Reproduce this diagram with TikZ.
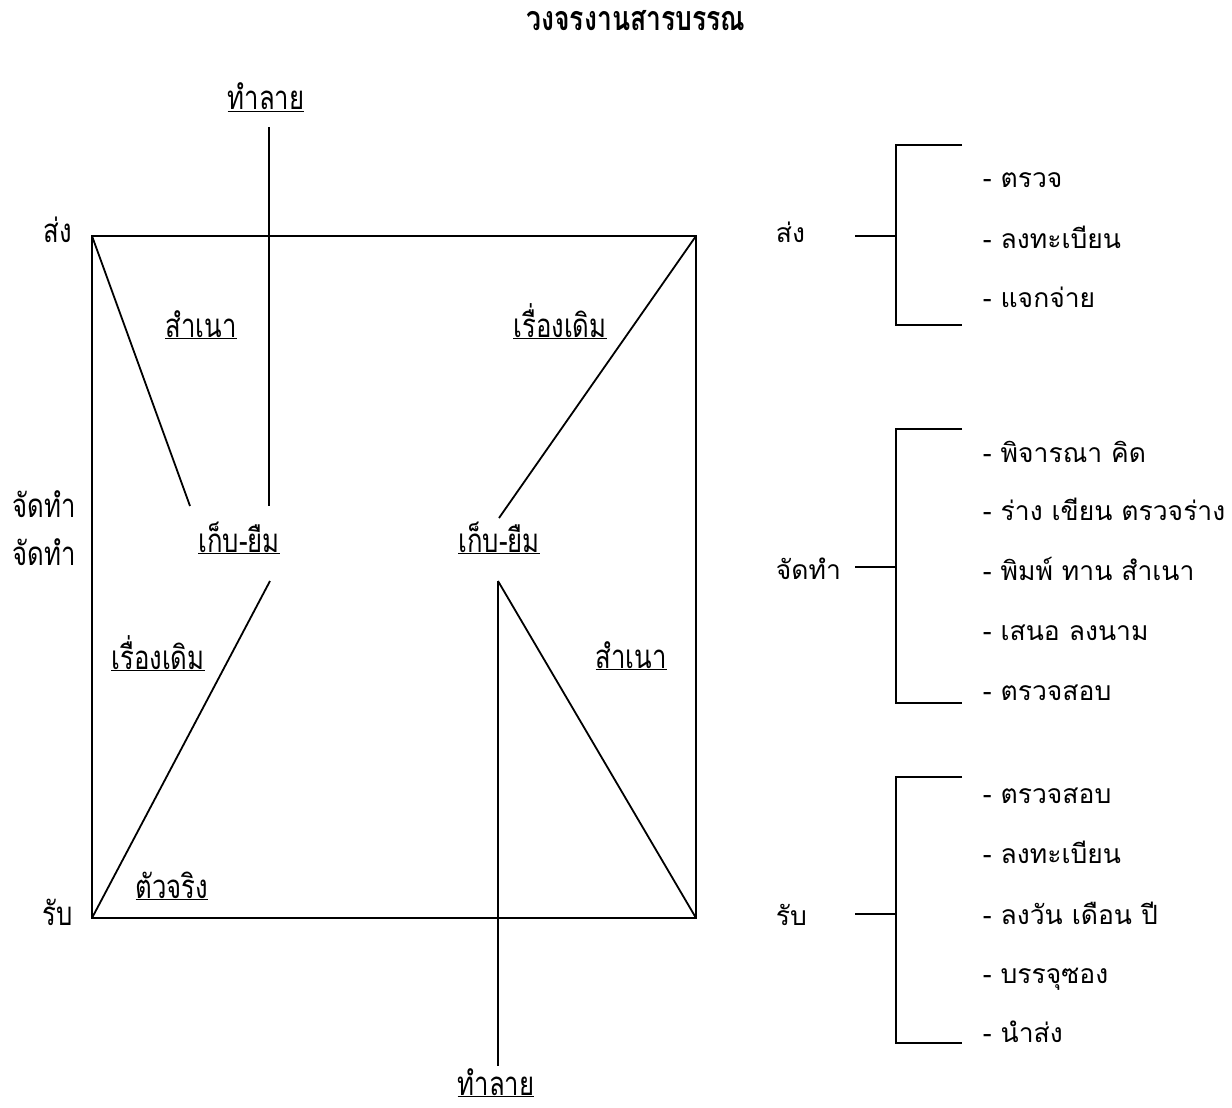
\documentclass[tikz,border=0pt]{standalone}
\usepackage{fontspec}
\newfontfamily\thai[Script=Thai]{Loma}
\newfontfamily\thain[Script=Thai,FakeStretch=0.78]{Loma}
\begin{document}
\begin{tikzpicture}[x=1pt,y=-1pt,
  line width=1.8pt,
  lbl/.style={inner sep=0pt,anchor=base,font=\thain\fontsize{33}{36}\selectfont},
  itm/.style={inner sep=0pt,anchor=base west,font=\thai\fontsize{26.5}{30}\selectfont},
  hd/.style={inner sep=0pt,anchor=base west,font=\thai\fontsize{26.5}{30}\selectfont}]
\useasboundingbox (0,0) rectangle (1232,1108);
% title
\node[inner sep=0pt,anchor=base,font=\thain\bfseries\fontsize{34}{36}\selectfont] (title) at (636,31) {วงจรงานสารบรรณ};
% corners
\coordinate (TL) at (92,236);
\coordinate (TR) at (696,236);
\coordinate (BL) at (92,918);
\coordinate (BR) at (696,918);
\draw (TL) -- (TR) -- (BR) -- (BL) -- cycle;
% labels inside
\node[lbl] (dtop) at (266,110) {\underline{ทำลาย}};
\node[lbl] (cp1) at (201,337) {\underline{สำเนา}};
\node[lbl] (old1) at (560,337) {\underline{เรื่องเดิม}};
\node[lbl] (kl) at (239,552) {\underline{เก็บ-ยืม}};
\node[lbl] (kr) at (499,552) {\underline{เก็บ-ยืม}};
\node[lbl] (old2) at (158,669) {\underline{เรื่องเดิม}};
\node[lbl] (cp2) at (631,668) {\underline{สำเนา}};
\node[lbl] (orig) at (172,898) {\underline{ตัวจริง}};
\node[lbl] (dbot) at (496,1095) {\underline{ทำลาย}};
% outside left labels
\node[lbl] (sendL) at (58,242) {ส่ง};
\node[lbl] (makeL1) at (44,517) {จัดทำ};
\node[lbl] (makeL2) at (44,565) {จัดทำ};
\node[lbl] (recvL) at (58,925) {รับ};
% inner connectors
\coordinate (t1) at (269,127);
\coordinate (t2) at (269,506);
\coordinate (s1) at (190,506);
\coordinate (r1) at (499,518);
\coordinate (l1) at (270,581);
\coordinate (b1) at (498,581);
\coordinate (b2) at (498,1066);
\draw (t1) -- (t2);
\draw (TL) -- (s1);
\draw (TR) -- (r1);
\draw (l1) -- (BL);
\draw (b1) -- (b2);
\draw (b1) -- (BR);
% right: send
\node[hd] (send) at (775,242) {ส่ง};
\coordinate (sa) at (855,236); \coordinate (sb) at (896,236);
\draw (sa) -- (sb);
\draw (962,145) -- (896,145) -- (896,325) -- (962,325);
\node[itm] (s-i1) at (982,187) {- ตรวจ};
\node[itm] (s-i2) at (982,248) {- ลงทะเบียน};
\node[itm] (s-i3) at (982,307) {- แจกจ่าย};
% right: make
\node[hd] (make) at (775,579) {จัดทำ};
\coordinate (ma) at (855,567); \coordinate (mb) at (896,567);
\draw (ma) -- (mb);
\draw (962,429) -- (896,429) -- (896,703) -- (962,703);
\node[itm] (m-i1) at (982,462) {- พิจารณา คิด};
\node[itm] (m-i2) at (982,520) {- ร่าง เขียน ตรวจร่าง};
\node[itm] (m-i3) at (982,580) {- พิมพ์ ทาน สำเนา};
\node[itm] (m-i4) at (982,640) {- เสนอ ลงนาม};
\node[itm] (m-i5) at (982,700) {- ตรวจสอบ};
% right: receive
\node[hd] (recv) at (775,925) {รับ};
\coordinate (ra) at (855,914); \coordinate (rb) at (896,914);
\draw (ra) -- (rb);
\draw (962,777) -- (896,777) -- (896,1043) -- (962,1043);
\node[itm] (r-i1) at (982,803) {- ตรวจสอบ};
\node[itm] (r-i2) at (982,863) {- ลงทะเบียน};
\node[itm] (r-i3) at (982,924) {- ลงวัน เดือน ปี};
\node[itm] (r-i4) at (982,983) {- บรรจุซอง};
\node[itm] (r-i5) at (982,1042) {- นำส่ง};
\end{tikzpicture}
\end{document}
